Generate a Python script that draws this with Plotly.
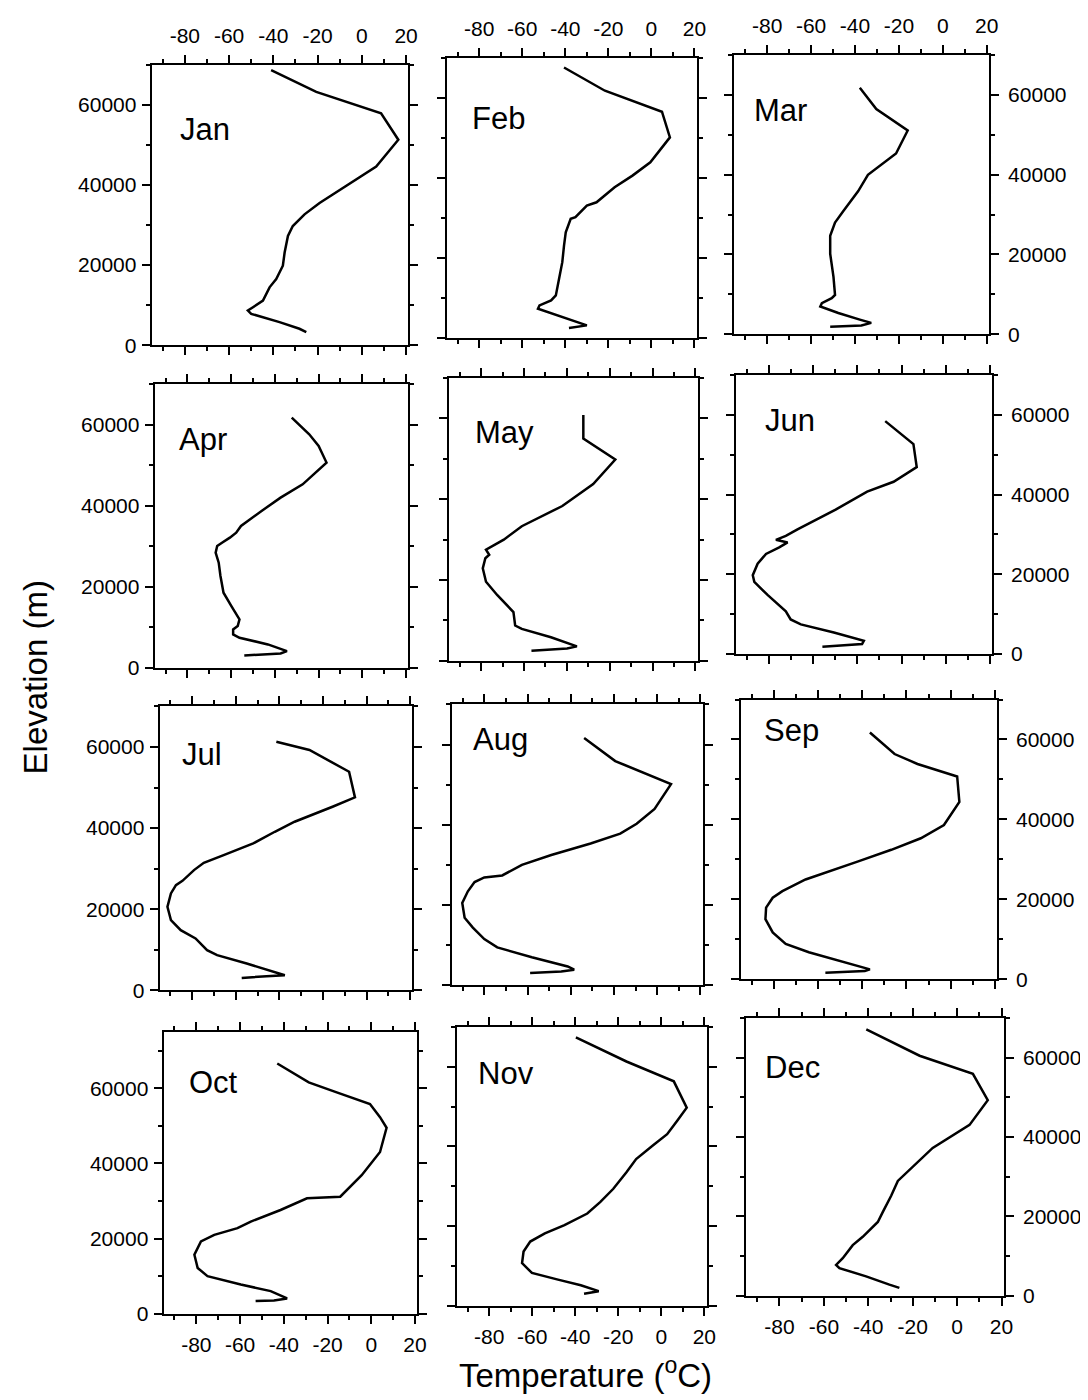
import plotly.graph_objects as go

W, H = 1088, 1400

months = ["Jan", "Feb", "Mar", "Apr", "May", "Jun",
          "Jul", "Aug", "Sep", "Oct", "Nov", "Dec"]

x_tickvals = [-80, -60, -40, -20, 0, 20]
x_ticklabels = ["-80", "-60", "-40", "-20", "0", "20"]
x_minorvals = [-90, -70, -50, -30, -10, 10]
y_tickvals = [0, 20000, 40000, 60000]
y_ticklabels = ["0", "20000", "40000", "60000"]
y_minorvals = [10000, 30000, 50000, 70000]

jan_temp = [-41, -20.6, 8.7, 16.5, 6.5, -4.1, -19.1, -25.9, -31.2, -33.4, -34.9, -35.7, -38.7, -41.7, -44.7, -49.2, -51.5, -50, -37.2, -28.2, -25.1]
jan_elev = [68600, 63200, 57850, 51250, 44600, 40900, 35500, 32650, 29750, 27270, 23130, 19840, 16530, 14460, 11160, 9500, 8680, 7850, 5780, 4130, 3300]

feb_temp = [-40.6, -25.5, -21.6, 4.9, 8.6, -0.5, -8.8, -17.1, -25.5, -30, -32.3, -35.3, -37.5, -39.8, -40.6, -41.4, -42.9, -44.4, -46.6, -52, -52.7, -33, -30, -38.3]
feb_elev = [67540, 62980, 61740, 56510, 50110, 43890, 40580, 37670, 33930, 33110, 31870, 30200, 29800, 26460, 23150, 19000, 14860, 10700, 9460, 8220, 7390, 3660, 3240, 2570]

mar_temp = [-37.8, -30.3, -16, -21.3, -34.1, -38.6, -45.3, -49.1, -51.3, -51.3, -49.8, -49.1, -50.6, -55.1, -55.8, -47.6, -37.8, -32.6, -37.1, -51.3]
mar_elev = [61730, 56370, 51030, 45270, 39920, 35800, 30860, 27980, 24690, 20170, 14400, 9880, 9050, 7830, 6990, 5350, 3700, 2880, 2220, 1900]

apr_temp = [-32.3, -24.3, -20, -16.4, -27.3, -37.4, -46.1, -55.5, -57.7, -60.6, -64.2, -66.4, -67.1, -65.7, -64.9, -63.5, -59.9, -56.2, -57, -59.1, -59.1, -56.2, -43.2, -34.5, -37.4, -54]
apr_elev = [61730, 57600, 54740, 50620, 45260, 41980, 38690, 34990, 33330, 32100, 30860, 30050, 28400, 25930, 22640, 18520, 15230, 11930, 10300, 9460, 8230, 7410, 5760, 4120, 3540, 3040]

may_temp = [-32.3, -32.3, -17.4, -27.7, -42.1, -53.5, -61, -69.4, -74.7, -77.7, -76.2, -78, -79.2, -77.7, -72.4, -64.9, -64.1, -61, -47.4, -35.3, -39.9, -56.5]
may_elev = [60830, 55000, 49830, 43750, 38330, 35400, 33330, 30000, 28330, 27500, 26250, 25400, 22900, 19580, 16250, 12080, 8750, 7900, 5830, 3580, 3080, 2500]

jun_temp = [-27.4, -14.6, -13.1, -23.6, -35.6, -49.9, -67.2, -72.5, -77, -71.7, -75.5, -81.5, -85.3, -87.5, -86.8, -80.8, -72.5, -70.3, -65.7, -50.7, -37.1, -37.9, -55.9]
jun_elev = [58440, 52670, 46910, 43210, 40740, 36220, 31280, 29630, 28640, 27980, 26740, 25110, 22640, 19750, 18100, 14810, 10700, 8640, 7410, 5350, 3290, 2470, 1810]

jul_temp = [-41.4, -26.2, -8, -5.3, -15.6, -33, -42.1, -52, -65.6, -74.7, -79.2, -83, -84.5, -87.5, -89.8, -91.4, -89.8, -85.3, -78.5, -73.2, -68.6, -55, -37.5, -45.9, -57.3]
jul_elev = [61310, 59260, 53900, 47580, 45260, 41560, 39090, 36220, 33330, 31430, 29630, 27580, 26990, 25930, 23880, 20570, 17280, 14810, 12770, 9880, 8640, 6590, 3700, 3460, 3040]

aug_temp = [-33.8, -19.4, 6.4, -1.2, -9.5, -17.1, -30.8, -49, -62.6, -71.7, -80, -84.5, -87.6, -90.2, -89.1, -85.3, -80, -74, -58, -41.4, -38.4, -44.4, -58.8]
aug_elev = [61650, 55900, 50140, 43970, 40270, 37800, 35340, 32480, 30010, 27370, 26880, 25720, 23430, 20540, 16840, 14380, 11520, 9450, 6980, 4690, 3870, 3450, 3030]

sep_temp = [-36.6, -25.4, -15, 3, 4, -3, -13.5, -26.9, -41.9, -59.8, -65.8, -76.3, -80.7, -83.7, -84, -80.7, -74.8, -64.3, -47.8, -36.6, -38.9, -56.8]
sep_elev = [61740, 56360, 53880, 50750, 44380, 38600, 35290, 32400, 29510, 26210, 24970, 22070, 20410, 17930, 15050, 11730, 8850, 6770, 4290, 2480, 2060, 1660]

oct_temp = [-43, -28.6, -15.8, -0.6, 4, 7, 4, -4.4, -14.2, -29.4, -41.5, -55.1, -61.2, -71.8, -77.9, -80.9, -79.4, -74.9, -59.7, -46, -38.5, -44.5, -52.9]
oct_elev = [66590, 61560, 58910, 55820, 52300, 49470, 43040, 36850, 31140, 30690, 27590, 24520, 22750, 20980, 19230, 15690, 12170, 9970, 7750, 6000, 4050, 3520, 3350]

nov_temp = [-39.7, -16.2, 5.8, 8.8, 11.8, 7.3, 2.7, -4.1, -11.7, -16.2, -22.3, -28.3, -34.4, -45, -54.1, -60.9, -64, -64.7, -60.1, -48, -37.4, -29.1, -33.6, -35.9]
nov_elev = [67390, 61320, 56340, 53030, 49710, 46380, 43070, 40160, 36840, 33530, 29370, 26060, 23150, 20240, 18170, 16110, 13620, 10700, 8220, 6550, 5150, 3660, 3240, 2990]

dec_temp = [-40.9, -26, -16.9, 7.1, 13.8, 5.6, -11, -26.7, -29.7, -33.5, -35.7, -42.5, -47, -51.5, -54.5, -53, -41, -30.5, -26]
dec_elev = [67140, 62980, 60490, 55940, 49290, 43070, 37270, 28960, 25220, 21080, 18600, 14860, 12770, 9460, 7790, 6970, 4900, 2810, 1990]

temps = [jan_temp, feb_temp, mar_temp, apr_temp, may_temp, jun_temp,
         jul_temp, aug_temp, sep_temp, oct_temp, nov_temp, dec_temp]
elevs = [jan_elev, feb_elev, mar_elev, apr_elev, may_elev, jun_elev,
         jul_elev, aug_elev, sep_elev, oct_elev, nov_elev, dec_elev]

# panel geometry in pixels: (left, right, top, bottom, ymax)
geom = [
    (145, 404, 57, 340, 70000), (443, 695, 50, 333, 70000), (733, 990, 47, 329, 70000),
    (148, 404, 379, 665, 70000), (445, 696, 373, 658, 70000), (735, 993, 370, 651, 70000),
    (153, 408, 704, 990, 70000), (448, 701, 702, 985, 70000), (740, 998, 697, 979, 70000),
    (157, 413, 1032, 1316, 75000), (453, 705, 1027, 1308, 70000), (745, 1005, 1018, 1298, 70000),
]
# month label position (left x, center y) in pixels
label_pos = [(178, 127), (472, 116), (757, 108), (177, 440), (475, 433), (768, 421),
             (180, 757), (473, 742), (767, 733), (187, 1088), (478, 1079), (768, 1073)]

FONT = "Arial, Liberation Sans, Helvetica, sans-serif"
fig = go.Figure()
layout = dict(width=W, height=H, margin=dict(l=0, r=0, t=0, b=0),
              paper_bgcolor="white", plot_bgcolor="white", showlegend=False,
              font=dict(family=FONT, color="black", size=21))
annotations = []

for i in range(12):
    n = "" if i == 0 else str(i + 1)
    row, col = divmod(i, 3)
    l, r, t, b, ymax = geom[i]
    fig.add_trace(go.Scatter(x=temps[i], y=elevs[i], mode="lines",
                             line=dict(color="black", width=2.5),
                             xaxis="x" + n, yaxis="y" + n, showlegend=False,
                             hoverinfo="skip"))
    common = dict(showline=True, linecolor="black", linewidth=2, mirror="ticks",
                  ticks="outside", ticklen=8, tickwidth=2, tickcolor="black",
                  showgrid=False, zeroline=False,
                  tickfont=dict(family=FONT, size=21, color="black"))
    xa = dict(common, domain=[l / W, r / W], range=[-95, 21], anchor="y" + n,
              tickmode="array", tickvals=x_tickvals, ticktext=x_ticklabels,
              minor=dict(tickmode="array", tickvals=x_minorvals, ticks="outside",
                         ticklen=4, tickwidth=2, tickcolor="black"),
              side="top" if row == 0 else "bottom",
              showticklabels=(row == 0 or row == 3), ticklabelstandoff=3)
    ya = dict(common, domain=[1 - b / H, 1 - t / H], range=[0, ymax], anchor="x" + n,
              tickmode="array", tickvals=y_tickvals, ticktext=y_ticklabels,
              minor=dict(tickmode="array", tickvals=y_minorvals, ticks="outside",
                         ticklen=4, tickwidth=2, tickcolor="black"),
              side="right" if col == 2 else "left",
              showticklabels=(col != 1), ticklabelstandoff=1 if col == 0 else 5)
    layout["xaxis" + n] = xa
    layout["yaxis" + n] = ya
    lx, ly = label_pos[i]
    annotations.append(dict(text=months[i], x=(lx - 6) / W, y=1 - (ly - 5) / H,
                            xref="paper", yref="paper", xanchor="left", yanchor="middle",
                            showarrow=False, font=dict(family=FONT, size=31, color="black")))

annotations.append(dict(text="Elevation (m)", x=28 / W, y=1 - 675 / H, xref="paper",
                        yref="paper", xanchor="center", yanchor="middle", textangle=-90,
                        showarrow=False, font=dict(family=FONT, size=33, color="black")))
annotations.append(dict(text="Temperature (<sup>o</sup>C)", x=583 / W, y=1 - 1376 / H,
                        xref="paper", yref="paper", xanchor="center", yanchor="middle",
                        showarrow=False, font=dict(family=FONT, size=33, color="black")))
layout["annotations"] = annotations
fig.update_layout(**layout)
fig.write_html("out.html")
